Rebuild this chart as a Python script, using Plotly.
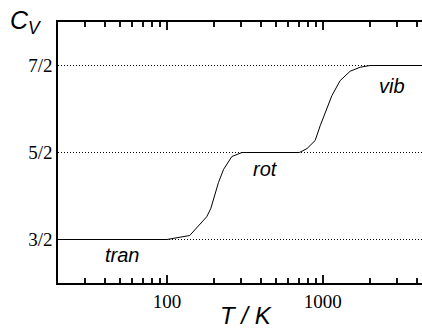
import numpy as np
import plotly.graph_objects as go

# Data
T = [20, 100, 140, 163, 180, 191, 204, 214, 231, 261, 303, 708, 793, 893, 962,
     1036, 1143, 1292, 1497, 1735, 2010, 4330]
Cv = [1.5, 1.5, 1.546, 1.673, 1.762, 1.854, 2.019, 2.154, 2.307, 2.454, 2.5, 2.5,
      2.546, 2.638, 2.807, 2.961, 3.153, 3.326, 3.434, 3.48, 3.5, 3.5]

y_tickvals = [1.5, 2.5, 3.5]
y_ticktext = ["3/2", "5/2", "7/2"]
x_tickvals = [100, 1000]
x_ticktext = ["100", "1000"]
x_minor = [30, 40, 50, 60, 70, 80, 90, 200, 300, 400, 500, 600, 700, 800, 900,
           2000, 3000, 4000]

labels = ["tran", "rot", "vib"]
label_T = [51.6, 427, 2780]
label_C = [1.327, 2.307, 3.265]

SERIF = "Liberation Serif"
SANS = "Liberation Sans"
TICKC = "#151515"
XRANGE = [float(np.log10(20)), float(np.log10(4330))]

fig = go.Figure()
fig.add_trace(go.Scatter(x=T, y=Cv, mode="lines",
                         line=dict(color="black", width=1),
                         hoverinfo="skip", showlegend=False))
# invisible trace tied to the minor-tick axis
fig.add_trace(go.Scatter(x=[T[0]], y=[Cv[0]], xaxis="x2", mode="markers",
                         marker=dict(opacity=0), hoverinfo="skip", showlegend=False))

for txt, tx, cy in zip(labels, label_T, label_C):
    fig.add_annotation(x=float(np.log10(tx)), y=cy, text=f"<i>{txt}</i>", showarrow=False,
                       font=dict(family=SANS, size=20, color="black"),
                       xanchor="center", yanchor="middle")

fig.add_annotation(xref="paper", yref="paper", x=(245.7 - 58) / 364, y=(283 - 315) / 261,
                   text="<i>T / K</i>", showarrow=False,
                   font=dict(family=SANS, size=24, color="black"),
                   xanchor="center", yanchor="middle")
fig.add_annotation(xref="paper", yref="paper", x=(26 - 58) / 364, y=(283 - 22) / 261,
                   text="<i>C<sub>V</sub></i>", showarrow=False,
                   font=dict(family=SANS, size=25, color="black"),
                   xanchor="center", yanchor="middle")

fig.update_layout(
    template="none",
    width=422, height=330,
    margin=dict(l=58, r=0, t=22, b=47),
    paper_bgcolor="white", plot_bgcolor="white",
    xaxis=dict(type="log", range=XRANGE,
               tickmode="array", tickvals=x_tickvals, ticktext=x_ticktext,
               ticks="inside", ticklen=8, tickwidth=2, tickcolor=TICKC,
               showline=True, linecolor="black", linewidth=1.5,
               mirror="allticks", showgrid=False, zeroline=False, layer="above traces",
               tickfont=dict(family=SERIF, size=19, color="black")),
    xaxis2=dict(type="log", range=XRANGE, overlaying="x", side="bottom",
                tickmode="array", tickvals=x_minor, showticklabels=False,
                ticks="inside", ticklen=5, tickwidth=2, tickcolor=TICKC,
                showline=True, linecolor="black", linewidth=1.5,
                mirror="allticks", showgrid=False, zeroline=False),
    yaxis=dict(range=[1, 4], tickmode="array", tickvals=y_tickvals, ticktext=y_ticktext,
               ticks="outside", ticklen=0, tickcolor="black",
               showline=True, linecolor="black", linewidth=1.5,
               mirror=False, showgrid=True, gridcolor="black", gridwidth=1,
               griddash="1px,2px", zeroline=False,
               tickfont=dict(family=SERIF, size=19, color="black")),
)

fig.write_html("out.html")
